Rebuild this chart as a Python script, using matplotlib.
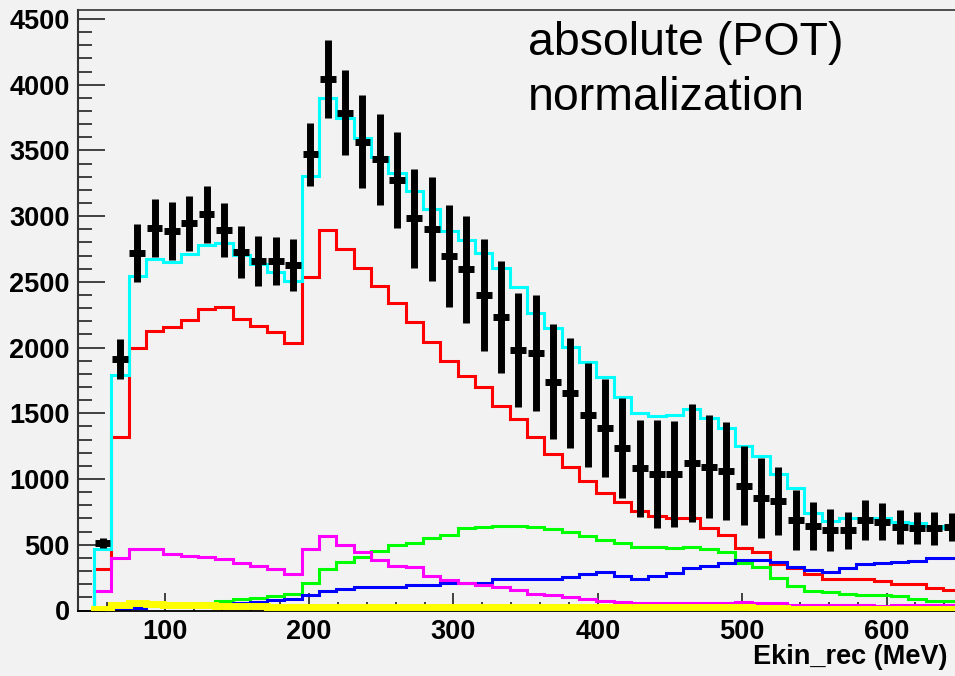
import numpy as np
import matplotlib
matplotlib.use("Agg")
from matplotlib import pyplot as plt
from matplotlib.ticker import MultipleLocator

plt.rcParams['font.family'] = ['Liberation Sans', 'DejaVu Sans']
plt.rcParams['font.weight'] = 'bold'

# 12 MeV bins, low edge of first bin at 51 MeV
edges = np.arange(51, 51 + 12 * 51, 12)

data = [514, 1911, 2722, 2908, 2887, 2946, 3014, 2895, 2730, 2659,
        2659, 2629, 3471, 4041, 3787, 3567, 3433, 3275, 2984, 2900,
        2697, 2596, 2400, 2231, 1982, 1957, 1741, 1657, 1487, 1386,
        1239, 1082, 1036, 1036, 1124, 1094, 1064, 949, 858, 833,
        689, 645, 612, 612, 689, 676, 638, 630, 625, 638]
data_err = [38, 152, 221, 221, 221, 209, 215, 205, 198, 190,
            183, 198, 240, 297, 323, 355, 346, 365, 378, 396,
            388, 407, 426, 426, 437, 441, 437, 418, 393, 373,
            380, 369, 411, 403, 449, 393, 373, 300, 304, 261,
            226, 183, 157, 141, 154, 142, 129, 122, 124, 106]

total_mc = [468, 1792, 2545, 2672, 2654, 2712, 2781, 2794, 2705, 2636,
            2578, 2507, 3308, 3902, 3745, 3593, 3453, 3331, 3192, 3052,
            2887, 2819, 2722, 2603, 2463, 2266, 2150, 2007, 1890, 1774,
            1627, 1500, 1480, 1487, 1531, 1462, 1391, 1254, 1175, 1036,
            930, 744, 681, 701, 701, 701, 676, 663, 645, 625]
red = [313, 1322, 1995, 2129, 2155, 2210, 2292, 2307, 2218, 2167,
       2117, 2038, 2540, 2895, 2750, 2603, 2471, 2340, 2197, 2045,
       1900, 1784, 1703, 1556, 1455, 1318, 1191, 1089, 988, 896,
       828, 759, 719, 706, 701, 630, 574, 478, 442, 355,
       325, 275, 238, 238, 238, 222, 200, 200, 169, 153]
green = [10, 25, 30, 35, 45, 50, 59, 72, 85, 97,
         110, 125, 212, 318, 372, 410, 455, 498, 516, 550,
         575, 625, 638, 645, 645, 633, 620, 600, 567, 536,
         511, 485, 481, 473, 485, 466, 445, 365, 330, 245,
         185, 145, 138, 127, 118, 115, 108, 90, 76, 75]
blue = [5, 10, 20, 40, 40, 42, 45, 50, 59, 68,
        80, 85, 118, 150, 161, 176, 176, 176, 194, 194,
        207, 212, 212, 237, 237, 237, 237, 257, 278, 295,
        260, 237, 260, 283, 321, 336, 364, 384, 384, 372,
        330, 305, 293, 320, 352, 360, 370, 376, 397, 397]
magenta = [145, 397, 466, 466, 430, 415, 405, 390, 359, 339,
           313, 278, 466, 567, 498, 448, 384, 339, 333, 262,
           232, 212, 194, 181, 156, 125, 118, 105, 85, 75,
           67, 55, 55, 55, 55, 55, 55, 67, 55, 55,
           42, 42, 42, 42, 42, 36, 42, 42, 42, 42]
yellow = [10, 40, 55, 50, 45, 45, 45, 35, 35, 35,
          30, 30, 30, 30, 30, 30, 30, 30, 25, 25,
          25, 25, 25, 25, 25, 25, 25, 25, 25, 25,
          25, 25, 25, 25, 25, 25, 25, 25, 20, 20,
          15, 15, 15, 15, 15, 15, 15, 10, 10, 10]

xticks = [100, 200, 300, 400, 500, 600]

bg = "#f2f2f2"
fig = plt.figure(figsize=(9.55, 6.76), dpi=100, facecolor=bg)
# axes runs past the right border, like the cropped original
ax = fig.add_axes([78 / 955, 65.5 / 676, (1031 - 78) / 955, 600.5 / 676], facecolor=bg)

lw = 2.2
ax.stairs(red, edges, baseline=0, color="#ff0000", lw=lw, zorder=2)
ax.stairs(green, edges, baseline=0, color="#00ff00", lw=lw, zorder=2)
ax.stairs(blue, edges, baseline=0, color="#0000ff", lw=lw, zorder=2)
ax.stairs(magenta, edges, baseline=0, color="#ff00ff", lw=lw, zorder=2)
ax.stairs(total_mc, edges, baseline=0, color="#00ffff", lw=lw, zorder=2.2)
ax.stairs(yellow, edges, baseline=0, color="#ffff00", lw=5, zorder=3)

centers = (edges[:-1] + edges[1:]) / 2
ax.errorbar(centers, data, yerr=data_err, xerr=5.5, fmt='none', ecolor='black',
            elinewidth=5, capsize=0, zorder=5)

ax.set_xlim(40, 700)
ax.set_ylim(0, 4568)

ax.set_xticks(xticks)
ax.xaxis.set_minor_locator(MultipleLocator(20))
ax.yaxis.set_major_locator(MultipleLocator(500))
ax.yaxis.set_minor_locator(MultipleLocator(100))

tc = "#333333"
ax.tick_params(axis='y', which='major', direction='in', length=19.5, width=1.3,
               color=tc, labelsize=19.5, pad=6)
ax.tick_params(axis='y', which='minor', direction='in', length=10, width=1.3, color=tc)
ax.tick_params(axis='x', which='major', direction='in', length=13, width=1.3,
               color=tc, labelsize=19.5, pad=6)
ax.tick_params(axis='x', which='minor', direction='in', length=6.5, width=1.3, color=tc)

ax.spines['right'].set_visible(False)
ax.spines['left'].set_linewidth(1.5)
ax.spines['left'].set_color(tc)
ax.spines['top'].set_linewidth(1.2)
ax.spines['top'].set_color(tc)
ax.spines['bottom'].set_linewidth(1.3)
ax.spines['bottom'].set_color('black')

fig.text(528 / 955, (676 - 55) / 676, "absolute (POT)", fontsize=33.5,
         fontweight='normal', va='baseline', ha='left')
fig.text(528 / 955, (676 - 110) / 676, "normalization", fontsize=33.5,
         fontweight='normal', va='baseline', ha='left')
fig.text(753 / 955, (676 - 664) / 676, "Ekin_rec (MeV)", fontsize=19.5,
         fontweight='bold', va='baseline', ha='left')

fig.savefig("out.png", dpi=100, facecolor=bg)
